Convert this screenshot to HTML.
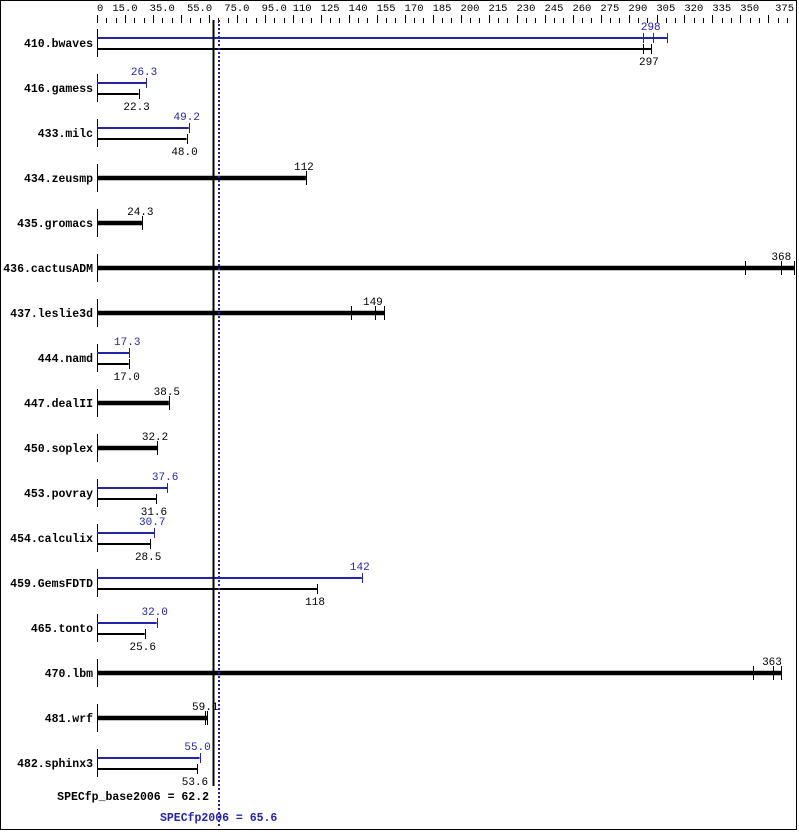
<!DOCTYPE html>
<html><head><meta charset="utf-8"><style>
body{margin:0;background:#fff}
svg text{font-family:"Liberation Mono","DejaVu Sans Mono",monospace}
</style></head><body>
<svg id="s" width="799" height="831" xmlns="http://www.w3.org/2000/svg">
<rect x="0.5" y="0.5" width="796" height="829" fill="#fff" stroke="#000"/>
</svg>
<script>
const s=document.getElementById('s');const NS='http://www.w3.org/2000/svg';
function el(t,a,txt){const e=document.createElementNS(NS,t);for(const k in a)e.setAttribute(k,a[k]);if(txt!==undefined)e.textContent=txt;s.appendChild(e);return e;}
const X=v=>97+v*1.865;
for(let v=0;v<=375;v+=5){const x=Math.round(X(v))+0.5;const big=v%15===0;el('line',{x1:x,x2:x,y1:big?15:18,y2:23,stroke:'#000'});}
const labs=[[0,'0'],[15,'15.0'],[35,'35.0'],[55,'55.0'],[75,'75.0'],[95,'95.0']];
for(let v=110;v<=350;v+=15)labs.push([v,''+v]);
labs.forEach(([v,t])=>el('text',{x:X(v),y:11,'font-size':10.5,'text-anchor':v===0?'start':'middle'},t));
el('text',{x:794,y:11,'font-size':10.5,'text-anchor':'end'},'375');
const rows=[
['410.bwaves',[298,305.6,[293,298]],[297,297,[293,297]]],
['416.gamess',[26.3,26.3,[]],[22.3,22.3,[]]],
['433.milc',[49.2,49.2,[]],[48.0,48.0,[]]],
['434.zeusmp',null,[112,112,[]]],
['435.gromacs',null,[24.3,24.3,[]]],
['436.cactusADM',null,[368,373.7,[347.3,366.7]]],
['437.leslie3d',null,[149,154,[136.2,149]]],
['444.namd',[17.3,17.3,[]],[17.0,17.0,[]]],
['447.dealII',null,[38.5,38.5,[]]],
['450.soplex',null,[32.2,32.2,[]]],
['453.povray',[37.6,37.6,[]],[31.6,31.6,[]]],
['454.calculix',[30.7,30.7,[]],[28.5,28.5,[]]],
['459.GemsFDTD',[142,142,[]],[118,118,[]]],
['465.tonto',[32.0,32.0,[]],[25.6,25.6,[]]],
['470.lbm',null,[363,367,[351.7,362.4]]],
['481.wrf',null,[59.1,59.1,[57.8]]],
['482.sphinx3',[55.0,55.0,[]],[53.6,53.6,[]]]];
const fmt=v=>v>=100?String(Math.round(v)):v.toFixed(1);
rows.forEach((r,i)=>{const y=43+45*i;
 el('text',{x:93,y:y+4,'font-size':11.5,'font-weight':'bold','text-anchor':'end'},r[0]);
 el('line',{x1:97.5,x2:97.5,y1:y-14,y2:y+14,stroke:'#000'});
 function bar(d,yy,col,w,lblY){const xe=X(d[1]);
  el('line',{x1:97,x2:xe,y1:yy,y2:yy,stroke:col,'stroke-width':w});
  const th=w>3?7:5;
  [...d[2],d[1]].forEach(v=>{const x=Math.round(X(v))+0.5;el('line',{x1:x,x2:x,y1:yy-th,y2:yy+th,stroke:col});});
  el('text',{x:X(d[0])-2,y:lblY,'font-size':11,'text-anchor':'middle',fill:col},fmt(d[0]));}
 if(r[1]){bar(r[1],y-5,'#2424a8',2,y-13);bar(r[2],y+6,'#000',2,y+22);}
 else bar(r[2],y,'#000',4.5,y-8);
});
el('line',{x1:213.5,x2:213.5,y1:20,y2:786,stroke:'#000','stroke-width':2});
el('line',{x1:219,x2:219,y1:20,y2:826,stroke:'#2424a8','stroke-width':2,'stroke-dasharray':'2,2'});
el('text',{x:209,y:800,'font-size':11.5,'font-weight':'bold','text-anchor':'end'},'SPECfp_base2006 = 62.2');
el('text',{x:160,y:821,'font-size':11.5,'font-weight':'bold',fill:'#2424a8'},'SPECfp2006 = 65.6');
</script>
</body></html>
